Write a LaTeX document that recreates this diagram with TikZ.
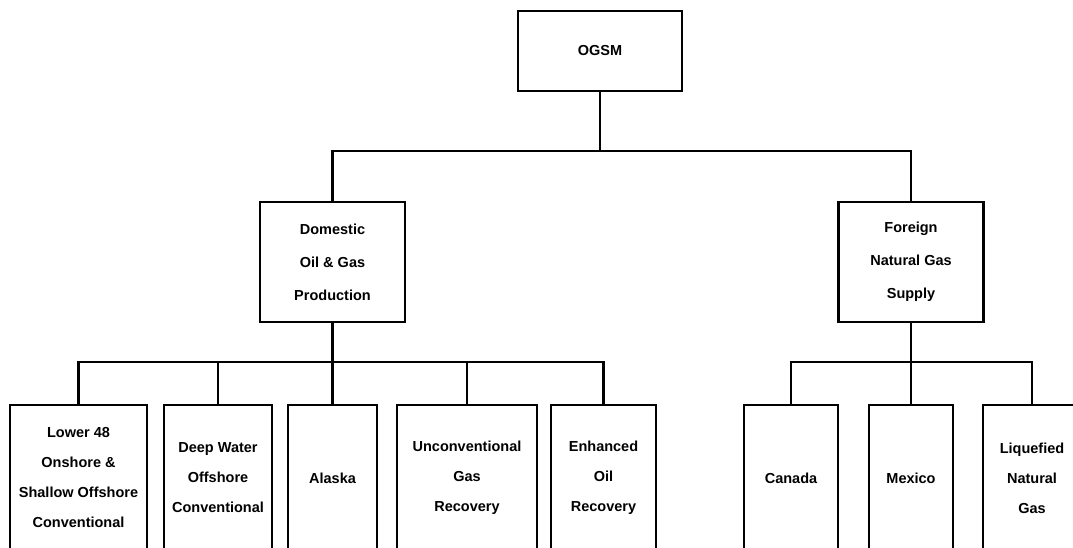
\documentclass[tikz,border=0pt]{standalone}
\usepackage{fontspec}
\setmainfont{Liberation Sans}
\usepackage{tikz}

\begin{document}
\begin{tikzpicture}[
  x=1pt,y=-1pt,
  box/.style={draw,line width=2.7pt,align=center,inner sep=0pt,
    font=\bfseries\fontsize{14.5}{33}\selectfont},
  leaf/.style={box,minimum height=146pt,
    font=\bfseries\fontsize{14.5}{30}\selectfont},
  bus/.style={line width=2.7pt}
]
  \useasboundingbox (0,0) rectangle (1073,548);
  \clip (0,0) rectangle (1073,548);
  % top level
  \node[box,minimum width=164pt,minimum height=80pt] (ogsm) at (600,51) {OGSM};
  \node[box,minimum width=145pt,minimum height=120pt] (dom) at (332.5,262)
    {Domestic\\Oil \& Gas\\Production};
  \node[box,minimum width=145pt,minimum height=120pt] (frn) at (911,262)
    {Foreign\\Natural Gas\\Supply};
  % domestic leaves
  \node[leaf,minimum width=137pt] (lower) at (78.5,478)
    {Lower 48\\Onshore \&\\Shallow Offshore\\Conventional};
  \node[leaf,minimum width=108pt] (deep) at (218,478)
    {Deep Water\\Offshore\\Conventional};
  \node[leaf,minimum width=89pt] (alaska) at (332.5,478) {Alaska};
  \node[leaf,minimum width=140pt] (ugr) at (467,478)
    {Unconventional\\Gas\\Recovery};
  \node[leaf,minimum width=105pt] (eor) at (603.5,478)
    {Enhanced\\Oil\\Recovery};
  % foreign leaves
  \node[leaf,minimum width=94pt] (canada) at (791,478) {Canada};
  \node[leaf,minimum width=84pt] (mexico) at (911,478) {Mexico};
  \node[leaf,minimum width=98pt] (lng) at (1032,478)
    {Liquefied\\Natural\\Gas};
  \coordinate (topbus) at (600,151);
  \coordinate (dombus) at (332.5,362);
  \coordinate (frnbus) at (911,362);
  \draw[bus] (ogsm) -- (topbus);
  \draw[bus] (dom.north) |- (topbus) -| (frn.north);
  \draw[bus] (dom) -- (dombus);
  \draw[bus] (frn) -- (frnbus);
  \foreach \c in {lower,deep,alaska,ugr,eor}
    \draw[bus] (\c.north) |- (dombus);
  \foreach \c in {canada,mexico,lng}
    \draw[bus] (\c.north) |- (frnbus);
\end{tikzpicture}
\end{document}
